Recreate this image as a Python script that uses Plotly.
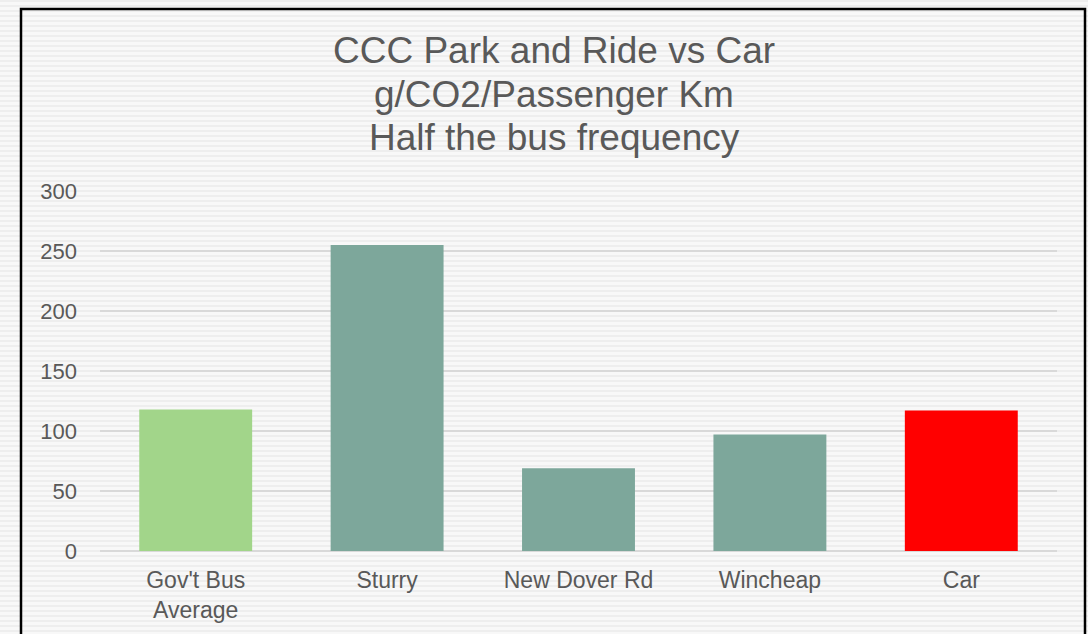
import plotly.graph_objects as go

# Emissions per passenger km for each option
categories = ["Gov't Bus<br>Average", "Sturry", "New Dover Rd", "Wincheap", "Car"]
co2_per_passenger_km = [118, 255, 69, 97, 117]
bar_colors = ["#a2d58a", "#7da79b", "#7da79b", "#7da79b", "#ff0000"]
y_ticks = [0, 50, 100, 150, 200, 250, 300]
title_lines = ["CCC Park and Ride vs Car", "g/CO2/Passenger Km", "Half the bus frequency"]

W, H = 1088, 634
ml, mr, mt, mb = 100, 31, 191, 83
pw, ph = W - ml - mr, H - mt - mb

def px_x(x):
    return (x - ml) / pw

def px_y(y):
    return (H - mb - y) / ph

fig = go.Figure(
    go.Bar(
        x=categories,
        y=co2_per_passenger_km,
        marker=dict(color=bar_colors, line=dict(width=0)),
        hoverinfo="skip",
    )
)

# faint horizontal stripes across the whole background
shapes = []
for yy in range(0, H, 5):
    shapes.append(dict(
        type="rect", xref="paper", yref="paper", layer="below",
        x0=px_x(0), x1=px_x(W), y0=px_y(yy + 2), y1=px_y(yy),
        fillcolor="#eeeeee", line=dict(width=0),
    ))

# outer frame
shapes.append(dict(
    type="rect", xref="paper", yref="paper", layer="above",
    x0=px_x(21), x1=px_x(1085), y0=px_y(H + 10), y1=px_y(9),
    line=dict(color="#000000", width=2.5), fillcolor="rgba(0,0,0,0)",
))

# three-line heading, one annotation per line
annotations = []
for line, cy in zip(title_lines, [50, 94, 137]):
    annotations.append(dict(
        text=line, xref="paper", yref="paper",
        x=px_x(554), y=px_y(cy), xanchor="center", yanchor="middle",
        showarrow=False, font=dict(size=37, color="#595959"),
    ))

fig.update_layout(
    width=W, height=H,
    margin=dict(l=ml, r=mr, t=mt, b=mb),
    paper_bgcolor="#f8f8f8",
    plot_bgcolor="rgba(0,0,0,0)",
    bargap=0.41,
    showlegend=False,
    font=dict(family="Liberation Sans, Arial, sans-serif", color="#595959", size=22),
    xaxis=dict(
        showgrid=False, showline=False, zeroline=False,
        tickfont=dict(size=23, color="#595959"),
        ticks="", ticklabelstandoff=13,
    ),
    yaxis=dict(
        range=[0, 300], tickvals=y_ticks,
        showgrid=True, gridcolor="#d9d9d9", gridwidth=1.5,
        zeroline=True, zerolinecolor="#d9d9d9", zerolinewidth=1.5,
        showline=False, ticks="",
        tickfont=dict(size=22, color="#595959"),
        ticklabelstandoff=22,
    ),
    shapes=shapes,
    annotations=annotations,
)

fig.write_html("out.html")
